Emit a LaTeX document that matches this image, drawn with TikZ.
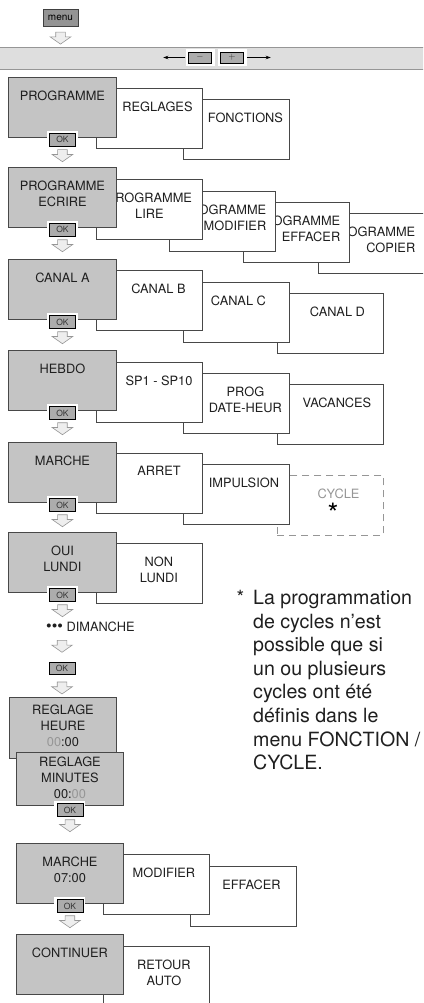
\documentclass[tikz,border=0pt]{standalone}
\usepackage{fontspec}
\setmainfont{TeX Gyre Heros}
\usetikzlibrary{arrows.meta, shapes.arrows, positioning}
\definecolor{panelgray}{RGB}{196,196,196}
\definecolor{okgray}{RGB}{172,172,172}
\definecolor{bargray}{RGB}{222,222,222}
\definecolor{arrowfill}{RGB}{238,238,238}
\definecolor{arrowline}{RGB}{150,150,150}
\definecolor{edgegray}{RGB}{72,72,72}
\definecolor{dimtext}{RGB}{150,150,150}

\begin{document}
\begin{tikzpicture}[x=1pt, y=-1pt,
                    gpanel/.style={draw=edgegray, line width=0.9pt, fill=panelgray, minimum width=108pt, minimum height=60pt, inner sep=0, anchor=north west},
                    wpanel/.style={draw=edgegray, line width=0.9pt, fill=white, minimum width=106pt, minimum height=60pt, inner sep=0, anchor=north west},
                    cyclebox/.style={wpanel, draw=dimtext, dash pattern=on 7pt off 5pt},
                    ptext/.style={anchor=north, inner sep=0, align=center, yshift=-13.4pt, text=black!88, font=\fontsize{12.8}{16}\selectfont},
                    rtext/.style={ptext, anchor=north east, align=right, xshift=44pt},
                    okbtn/.style={draw=black, line width=0.5pt, fill=okgray, minimum width=26pt, minimum height=12.5pt, inner sep=0, text=black!80, font=\fontsize{8.5}{9}\selectfont, preaction={draw=white, line width=5pt}},
                    keybtn/.style={okbtn, minimum width=23pt, minimum height=11pt, font=\fontsize{9}{9}\selectfont, preaction={draw=white, line width=6pt}},
                    menubtn/.style={draw=black!75, fill=black!42, line width=0.6pt, minimum width=35pt, minimum height=17pt, inner sep=0, font=\fontsize{10}{10}\selectfont},
                    downarr/.style={single arrow, shape border rotate=270, draw=arrowline, fill=arrowfill, line width=0.6pt, inner xsep=4.5pt, inner ysep=0pt, minimum width=0pt, minimum height=12pt, single arrow head extend=5.5pt, single arrow tip angle=110},
                    keyarrow/.style={-{Stealth[length=5pt, width=3.5pt]}, line width=0.6pt, shorten <=3pt},
                    note/.style={anchor=north west, inner sep=0, align=left, text=black!88, font=\fontsize{19.6}{23.6}\selectfont}]
                    \path[use as bounding box, clip] (0,0) rectangle (423,1003);
                    \node[menubtn](menu) at (60.5,18){menu};
                    \node[downarr, below=5pt of menu, anchor=tail](a0){};
                    \node[draw=arrowline, fill=bargray, line width=0.7pt, minimum width=428pt, minimum height=22pt, anchor=north west](bar) at (-2,47){};
                    \node[keybtn](minus) at (200,57.5){$-$};
                    \node[keybtn, right=8.5pt of minus](plus){$+$};
                    \coordinate[left=25pt of minus](lend);
                    \coordinate[right=27pt of plus](rend);
                    \draw[keyarrow](minus.west) -- (lend);
                    \draw[keyarrow](plus.east) -- (rend);

                    \node[wpanel, label={[ptext, xshift=9pt]north:FONCTIONS}](fonctions) at (183,99){};
                    \node[wpanel, label={[ptext, xshift=8pt]north:REGLAGES}](reglages) at (96,88){};
                    \node[gpanel, label={[ptext]north:PROGRAMME}](prog) at (8,77){};
                    \node[okbtn](ok1) at ([yshift=-2pt]prog.south){OK};
                    \node[downarr, below=3pt of ok1, anchor=tail](a1){};

                    \node[wpanel, label={[rtext]north:{PROGRAMME\\COPIER}}](copier) at (318,213){};
                    \node[wpanel, label={[rtext]north:{PROGRAMME\\EFFACER}}](effacer) at (243,202){};
                    \node[wpanel, label={[rtext]north:{PROGRAMME\\MODIFIER}}](modifier) at (169,191){};
                    \node[wpanel, label={[ptext]north:{PROGRAMME\\LIRE}}](lire) at (96,179){};
                    \node[gpanel, label={[ptext]north:{PROGRAMME\\ECRIRE}}](ecrire) at (8,167){};
                    \node[okbtn](ok2) at ([yshift=-2pt]ecrire.south){OK};
                    \node[downarr, below=3pt of ok2, anchor=tail](a2){};

                    \node[wpanel, label={[ptext, xshift=7pt]north:CANAL D}](canald) at (277,293){};
                    \node[wpanel, label={[ptext, xshift=2pt]north:CANAL C}](canalc) at (183,282){};
                    \node[wpanel, label={[ptext, xshift=9pt]north:CANAL B}](canalb) at (96,270){};
                    \node[gpanel, label={[ptext]north:CANAL A}](canala) at (8,259){};
                    \node[okbtn](ok3) at ([yshift=-2pt]canala.south){OK};
                    \node[downarr, below=3pt of ok3, anchor=tail](a3){};

                    \node[wpanel, label={[ptext, xshift=6.5pt]north:VACANCES}](vacances) at (277,384){};
                    \node[wpanel, label={[ptext, xshift=9pt]north:{PROG\\DATE-HEUR}}](progdate) at (183,373){};
                    \node[wpanel, label={[ptext, xshift=9.5pt]north:SP1 - SP10}](sp) at (96,362){};
                    \node[gpanel, label={[ptext]north:HEBDO}](hebdo) at (8,350){};
                    \node[okbtn](ok4) at ([yshift=-2pt]hebdo.south){OK};
                    \node[downarr, below=3pt of ok4, anchor=tail](a4){};

                    \node[cyclebox, label={[ptext, xshift=8pt, text=dimtext]north:CYCLE}](cycle) at (277,475){};
                    \node[anchor=base, inner sep=0, font=\fontsize{28}{28}\selectfont](star) at (333,523.5){*};
                    \node[wpanel, label={[ptext, xshift=7.5pt]north:IMPULSION}](impulsion) at (183,464){};
                    \node[wpanel, label={[ptext, xshift=9.5pt]north:ARRET}](arret) at (96,453){};
                    \node[gpanel, label={[ptext]north:MARCHE}](marche) at (8,442){};
                    \node[okbtn](ok5) at ([yshift=-2pt]marche.south){OK};
                    \node[downarr, below=3pt of ok5, anchor=tail](a5){};

                    \node[wpanel, label={[ptext, xshift=9.5pt]north:{NON\\LUNDI}}](non) at (96,543){};
                    \node[gpanel, label={[ptext]north:{OUI\\LUNDI}}](oui) at (8,532){};
                    \node[okbtn](ok6) at ([yshift=-2pt]oui.south){OK};
                    \node[downarr, below=3pt of ok6, anchor=tail](a6){};
                    \node[anchor=west, inner sep=0, text=black!88, font=\fontsize{12.8}{16}\selectfont](dim) at (46,627){{\fontsize{16}{16}\selectfont\textbullet\textbullet\textbullet}\ DIMANCHE};
                    \node[downarr, anchor=tail](a7) at (62,640){};
                    \node[okbtn, below=9pt of a7.tip](ok7){OK};
                    \node[downarr, below=7pt of ok7, anchor=tail](a8){};

                    \node[gpanel, minimum width=107pt, minimum height=61pt, label={[ptext, yshift=6pt]north:{REGLAGE\\HEURE\\{\color{dimtext}00}:00}}](heure) at (9,697){};
                    \node[gpanel, minimum width=107pt, minimum height=53pt, label={[ptext, yshift=9pt]north:{REGLAGE\\MINUTES\\00:{\color{dimtext}00}}}](minutes) at (16,752){};
                    \node[okbtn](ok8) at ([yshift=-4pt]minutes.south){OK};
                    \node[downarr, below=3pt of ok8, anchor=tail](a9){};

                    \node[wpanel, label={[ptext, xshift=8pt]north:EFFACER}](effacer2) at (190,866){};
                    \node[wpanel, label={[ptext, xshift=7.5pt]north:MODIFIER}](modifier2) at (103,854){};
                    \node[gpanel, minimum width=107pt, label={[ptext]north:{MARCHE\\07:00}}](marche2) at (16,843){};
                    \node[okbtn](ok9) at ([yshift=-2pt]marche2.south){OK};
                    \node[downarr, below=3pt of ok9, anchor=tail](a10){};

                    \node[wpanel, label={[ptext, xshift=7.5pt]north:{RETOUR\\AUTO}}](retour) at (103,946){};
                    \node[gpanel, minimum width=107pt, label={[ptext]north:CONTINUER}](continuer) at (16,934){};

                    \node[note](footnote) at (253,590){\llap{*\hspace{9pt}}La programmation\\de cycles n’est\\possible que si\\un ou plusieurs\\cycles ont été\\définis dans le\\menu FONCTION /\\CYCLE.};
                \end{tikzpicture}
\end{document}
